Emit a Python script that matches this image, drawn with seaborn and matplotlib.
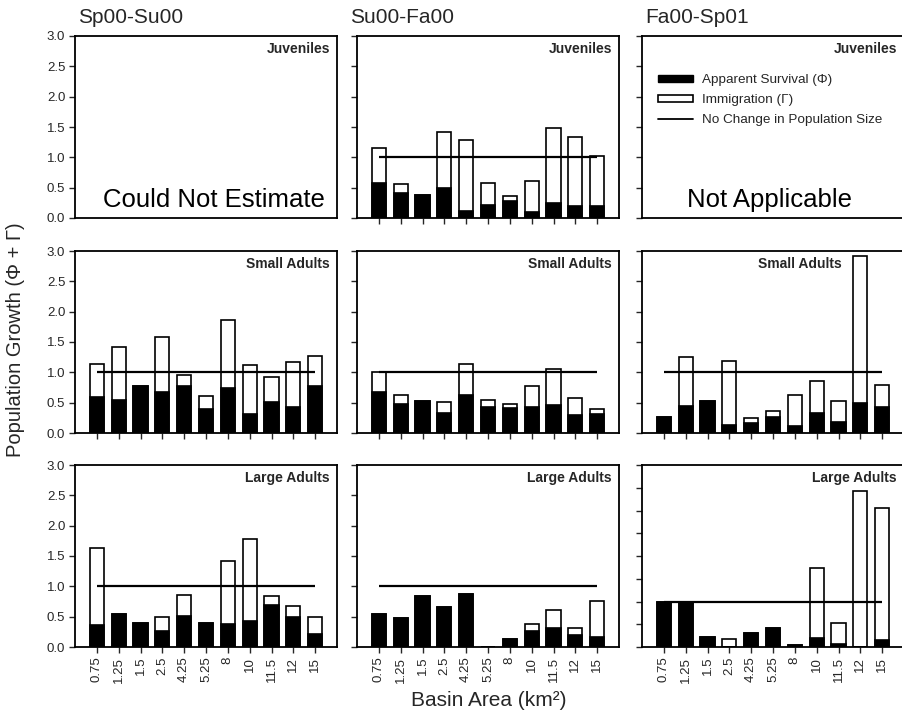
import numpy as np
import matplotlib
matplotlib.use("Agg")
import matplotlib.pyplot as plt
from matplotlib.patches import Patch
from matplotlib.lines import Line2D
import seaborn as sns

sns.set_theme(style="white")
plt.rcParams["font.family"] = ["Liberation Sans", "DejaVu Sans"]

# Basin areas (km2) along the x axis
basin_area = ["0.75", "1.25", "1.5", "2.5", "4.25", "5.25", "8", "10", "11.5", "12", "15"]

periods = ["Sp00-Su00", "Su00-Fa00", "Fa00-Sp01"]
stages = ["Juveniles", "Small Adults", "Large Adults"]

# Apparent survival (Phi) and immigration (Gamma) per period and stage
su_fa_juv_surv = [0.57, 0.41, 0.38, 0.49, 0.11, 0.22, 0.28, 0.10, 0.24, 0.19, 0.19]
su_fa_juv_imm = [0.58, 0.15, 0.00, 0.92, 1.17, 0.35, 0.09, 0.51, 1.25, 1.14, 0.84]

sp_su_small_surv = [0.60, 0.55, 0.77, 0.68, 0.78, 0.40, 0.74, 0.32, 0.51, 0.43, 0.78]
sp_su_small_imm = [0.53, 0.87, 0.00, 0.90, 0.18, 0.21, 1.13, 0.80, 0.41, 0.74, 0.49]

su_fa_small_surv = [0.68, 0.48, 0.53, 0.33, 0.62, 0.43, 0.41, 0.43, 0.46, 0.29, 0.32]
su_fa_small_imm = [0.33, 0.14, 0.00, 0.18, 0.51, 0.11, 0.07, 0.35, 0.59, 0.28, 0.08]

fa_sp_small_surv = [0.27, 0.45, 0.52, 0.14, 0.17, 0.26, 0.11, 0.33, 0.18, 0.50, 0.43]
fa_sp_small_imm = [0.00, 0.80, 0.00, 1.04, 0.07, 0.10, 0.52, 0.53, 0.35, 2.42, 0.36]

sp_su_large_surv = [0.37, 0.55, 0.39, 0.27, 0.51, 0.39, 0.38, 0.43, 0.70, 0.50, 0.22]
sp_su_large_imm = [1.27, 0.00, 0.00, 0.23, 0.34, 0.00, 1.03, 1.35, 0.14, 0.18, 0.27]

su_fa_large_surv = [0.55, 0.48, 0.84, 0.66, 0.88, 0.00, 0.13, 0.27, 0.31, 0.20, 0.17]
su_fa_large_imm = [0.00, 0.00, 0.00, 0.00, 0.00, 0.00, 0.00, 0.11, 0.30, 0.12, 0.59]

fa_sp_large_surv = [1.00, 1.00, 0.23, 0.00, 0.30, 0.42, 0.05, 0.19, 0.06, 0.00, 0.15]
fa_sp_large_imm = [0.00, 0.00, 0.00, 0.18, 0.00, 0.00, 0.00, 1.54, 0.46, 3.43, 2.91]

no_change = 1.0

# (row, col) -> (survival, immigration, y max)
panels = {
    (0, 1): (su_fa_juv_surv, su_fa_juv_imm, 3.0),
    (1, 0): (sp_su_small_surv, sp_su_small_imm, 3.0),
    (1, 1): (su_fa_small_surv, su_fa_small_imm, 3.0),
    (1, 2): (fa_sp_small_surv, fa_sp_small_imm, 3.0),
    (2, 0): (sp_su_large_surv, sp_su_large_imm, 3.0),
    (2, 1): (su_fa_large_surv, su_fa_large_imm, 3.0),
    (2, 2): (fa_sp_large_surv, fa_sp_large_imm, 4.0),
}
# message for panels without estimates: text, left offset (px)
empty_text = {(0, 0): ("Could Not Estimate", 28), (0, 2): ("Not Applicable", 45)}

W, H = 902, 716
fig = plt.figure(figsize=(W / 100, H / 100), dpi=100)
fig.patch.set_facecolor("white")

col_left = [75, 357, 642]
row_top = [36, 251, 465]
aw, ah = 262, 182

for r in range(3):
    for c in range(3):
        ax = fig.add_axes([col_left[c] / W, 1 - (row_top[r] + ah) / H, aw / W, ah / H])
        ax.set_facecolor("white")
        key = (r, c)
        ymax = 3.0
        if key in panels:
            surv, imm, ymax = panels[key]
            total = np.array(surv) + np.array(imm)
            sns.barplot(x=basin_area, y=total, order=basin_area, color="white",
                        edgecolor="black", linewidth=1.2, width=0.65,
                        saturation=1, ax=ax)
            sns.barplot(x=basin_area, y=surv, order=basin_area, color="black",
                        edgecolor="black", linewidth=1.2, width=0.65,
                        saturation=1, ax=ax)
            ax.hlines(no_change, 0, len(basin_area) - 1, color="black", lw=1.6, zorder=5)
            ax.set_xticks(range(len(basin_area)))
            ax.set_xticklabels(basin_area, rotation=90, fontsize=9.5)
            ax.tick_params(axis="x", length=4, width=1, direction="out", pad=3,
                           labelbottom=(r == 2), bottom=True)
        else:
            txt, off = empty_text[key]
            ax.set_xticks([])
            ax.text(off / aw, 11 / ah, txt, transform=ax.transAxes,
                    ha="left", va="baseline", fontsize=18.5, color="black")
        ax.set_xlim(-1, len(basin_area))
        ax.set_ylim(0, ymax)
        ax.set_yticks(np.arange(0, ymax + 0.01, 0.5))
        ax.set_yticklabels([f"{v:.1f}" for v in np.arange(0, ymax + 0.01, 0.5)], fontsize=9.5)
        ax.tick_params(axis="y", length=4, width=1, direction="out", pad=3,
                       labelleft=(c == 0), left=True)
        ax.set_xlabel("")
        ax.set_ylabel("")
        for sp in ax.spines.values():
            sp.set_visible(True)
            sp.set_color("black")
            sp.set_linewidth(1.3)
        # stage label; shifted left where the tall bar would cover it
        right_px = 62 if key == (1, 2) else 7
        ax.text(1 - right_px / aw, 1 - 6 / ah, stages[r], transform=ax.transAxes,
                ha="right", va="top", fontsize=10, fontweight="bold")

        if key == (0, 2):
            handles = [
                Patch(facecolor="black", edgecolor="black"),
                Patch(facecolor="white", edgecolor="black", linewidth=1.2),
                Line2D([0], [0], color="black", lw=1.3),
            ]
            labels = ["Apparent Survival (\u03a6)", "Immigration (\u0393)",
                      "No Change in Population Size"]
            ax.legend(handles, labels, loc="upper left",
                      bbox_to_anchor=(16 / aw, 1 - 38 / ah), frameon=False,
                      fontsize=9.7, handlelength=2.6, handleheight=0.4,
                      handletextpad=0.7, labelspacing=0.6, borderpad=0,
                      borderaxespad=0)

# Column headings
title_x = [78, 350, 645]
for c, name in enumerate(periods):
    fig.text(title_x[c] / W, 1 - 23 / H, name, ha="left", va="baseline", fontsize=15)

fig.text(16 / W, 1 - 340 / H, "Population Growth (\u03a6 + \u0393)", rotation=90,
         ha="center", va="center", fontsize=14.5)
fig.text(489 / W, 1 - 700 / H, "Basin Area (km\u00b2)", ha="center", va="center",
         fontsize=15)

fig.savefig("out.png", dpi=100, facecolor="white")
